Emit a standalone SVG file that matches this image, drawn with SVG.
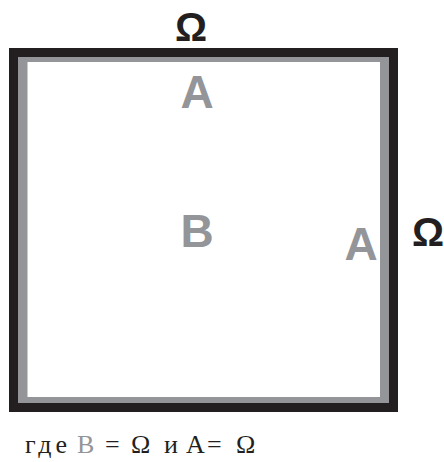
<svg xmlns="http://www.w3.org/2000/svg" width="444" height="462" viewBox="0 0 444 462">
<style>
.lbl{font-family:"Liberation Sans",Arial,sans-serif;font-weight:bold;text-anchor:middle}
.om{fill:#231f20;font-size:40px}
.g{fill:#939598;font-size:46px}
.cap{font-family:"Liberation Serif","Times New Roman",serif;font-size:26px;fill:#231f20}
</style>
<rect width="444" height="462" fill="#ffffff"/>
<g id="frame">
<rect x="9" y="48" width="389" height="364" fill="#231f20"/>
<rect x="18" y="57" width="371" height="346" fill="#939598"/>
<rect x="27.5" y="62" width="352.5" height="335" fill="#ffffff"/>
</g>
<g id="labels">
<text class="lbl om" x="191" y="41">Ω</text>
<text class="lbl g" x="197" y="108">A</text>
<text class="lbl g" x="197" y="247">B</text>
<text class="lbl g" x="361" y="260">A</text>
<text class="lbl om" x="428" y="246">Ω</text>
</g>
<g id="caption">
<text class="cap" y="453"><tspan x="25" textLength="42" lengthAdjust="spacing">где</tspan><tspan x="77" fill="#939598">B</tspan><tspan x="105">=</tspan><tspan x="131">Ω</tspan><tspan x="164">и</tspan><tspan x="186">A</tspan><tspan x="207">=</tspan><tspan x="236">Ω</tspan></text>
</g>
</svg>
